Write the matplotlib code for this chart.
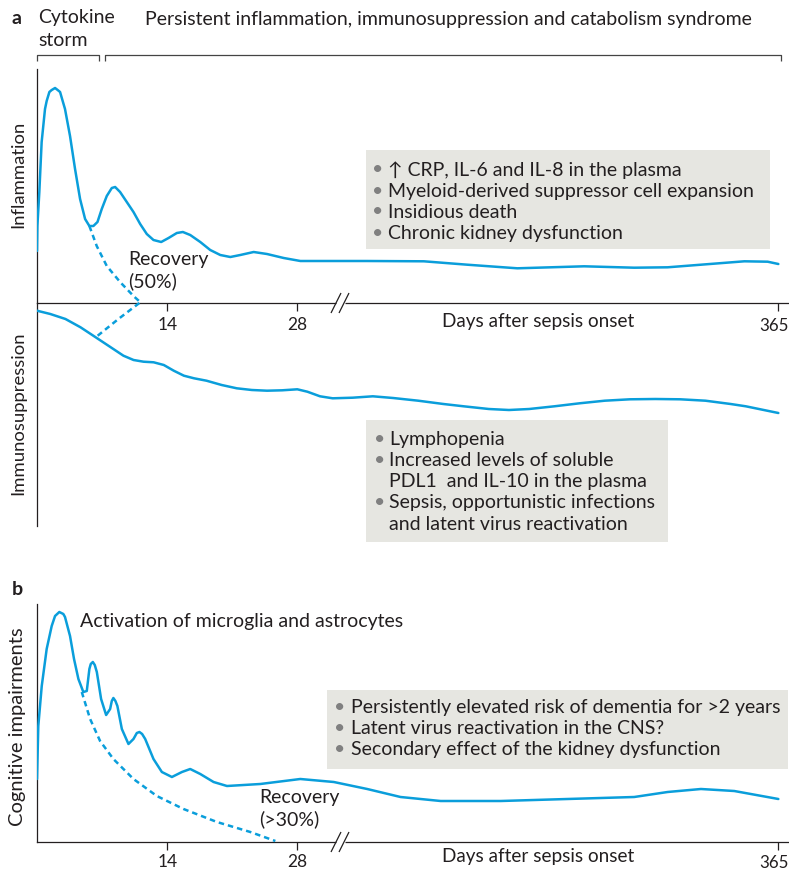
import numpy as np
import matplotlib
matplotlib.use("Agg")
import matplotlib.pyplot as plt
from matplotlib.lines import Line2D
from matplotlib.patches import Rectangle

W, H = 789, 870
BLUE = "#0a9edb"
INK = "#231f20"
BOX = "#e6e6e1"
DOT = "#808080"
FONT = ["Lato", "DejaVu Sans"]

# x axis: days after sepsis onset, linear up to the break, squeezed after it
BREAK = 32.0
SQUEEZE = 0.1432
day_ticks = [14, 28, 365]

# schematic curves (level in arbitrary units)
infl_days = [0, 0.04, 0.25, 0.5, 0.86, 1.04, 1.33, 1.58, 1.94, 2.22, 2.48, 2.76,
             3.01, 3.55, 4.09, 4.63, 5.17, 5.63, 6.06, 6.5, 6.96, 7.5, 8.04,
             8.4, 8.93, 9.65, 10.37, 11.09, 11.8, 12.52, 13.35, 14.14, 15.03,
             15.68, 16.47, 17.55, 18.62, 19.7, 20.78, 21.85, 23.29, 24.72, 26.52,
             28.31, 31.9, 56, 98.9, 131.5, 169.1, 194.2, 219.2, 256.8, 281.9,
             306.9, 339.5, 357, 365]
infl_level = [52, 77, 111, 161, 194, 202, 211, 213, 215, 213, 211, 202,
              194, 167, 134, 104, 84, 77, 77, 81, 94, 107, 115,
              116, 111, 101, 91, 79, 69, 63, 61, 65, 70,
              71, 68, 61, 53, 48, 46, 48, 51, 49, 45,
              42, 42, 42, 41.7, 38.3, 34.7, 35.7, 36.7, 35.3, 35.7,
              38.3, 41.7, 41.3, 39]
infl_recovery_days = [5.63, 6.42, 7.5, 8.93, 10.37, 11.2]
infl_recovery_level = [77, 57, 37, 21, 7, 0]

imm_days = [0, 1.43, 3.06, 4.68, 6.31, 7.93, 9.29, 10.38, 11.45, 12.54, 13.63,
            14.7, 15.79, 16.88, 18.22, 19.85, 21.47, 23.1, 24.73, 26.35, 27.98,
            29.06, 30.42, 31.78, 45.5, 60.6, 75.8, 94.7, 113.6, 128.8, 147.7,
            162.8, 178, 196.9, 215.8, 234.7, 253.6, 272.6, 291.4, 310.3, 329.2,
            340.6, 365]
imm_level = [7.7, 11, 16, 24.3, 34.3, 44.3, 52.7, 57, 58.7, 59.3, 62,
             67.7, 72.7, 75.3, 77.7, 82, 85.3, 87, 87.7, 87.3, 86.3,
             88.7, 93.3, 95.3, 94.7, 93.3, 95, 97.7, 101, 103.3, 106,
             107, 106, 103.3, 100.3, 97.7, 96.3, 96, 96.3, 97.7, 101,
             103.3, 110]
imm_recovery_days = [11.0, 8.75, 6.31]
imm_recovery_level = [0, 16, 34.3]

cog_days = [0, 0.14, 0.51, 1.04, 1.58, 1.94, 2.40, 2.83, 3.01, 3.55, 3.98, 4.45,
            4.98, 5.35, 5.63, 5.78, 6.00, 6.21, 6.43, 6.89, 7.43, 7.86, 8.04,
            8.21, 8.43, 8.64, 9.12, 9.83, 10.37, 10.73, 11.01, 11.30, 11.63,
            12.52, 13.42, 14.50, 15.58, 16.47, 17.55, 18.98, 20.42, 24.0, 28.3,
            31.9, 56.4, 81.4, 111.5, 156.6, 206.7, 256.8, 281.9, 306.9, 331.9, 365]
cog_level = [63, 116, 156, 193, 216, 226, 230, 228, 225, 206, 183, 163,
             150, 151, 173, 178, 180, 177, 170, 143, 127, 133, 141,
             144, 141, 136, 113, 98, 103, 109, 110, 108, 103,
             83, 70, 65, 70, 73, 68, 60, 56, 58, 63,
             60, 53, 45, 41, 41, 43, 45, 50, 53, 51, 43]
cog_recovery_days = [4.81, 5.71, 6.78, 8.21, 10.37, 12.88, 15.75, 19.34, 22.93, 25.62]
cog_recovery_level = [150, 123, 101, 83, 63, 46, 33, 20, 10, 1]

infl_notes = ["\u2191 CRP, IL-6 and IL-8 in the plasma",
              "Myeloid-derived suppressor cell expansion",
              "Insidious death",
              "Chronic kidney dysfunction"]
imm_notes = ["Lymphopenia",
             "Increased levels of soluble\nPDL1  and IL-10 in the plasma",
             "Sepsis, opportunistic infections\nand latent virus reactivation"]
cog_notes = ["Persistently elevated risk of dementia for >2 years",
             "Latent virus reactivation in the CNS?",
             "Secondary effect of the kidney dysfunction"]


def fwd(d):
    d = np.asarray(d, dtype=float)
    return np.where(d <= BREAK, d, BREAK + (d - BREAK) * SQUEEZE)


def inv(p):
    p = np.asarray(p, dtype=float)
    return np.where(p <= BREAK, p, BREAK + (p - BREAK) / SQUEEZE)


def frac(x, y):
    return x / W, 1 - y / H


def put(x, y, s, size=14, **kw):
    fx, fy = frac(x, y)
    kw.setdefault("va", "center")
    kw.setdefault("color", INK)
    fig.text(fx, fy, s, fontsize=size, family=FONT, **kw)


def seg(xs, ys, **kw):
    fx = [x / W for x in xs]
    fy = [1 - y / H for y in ys]
    kw.setdefault("color", INK)
    kw.setdefault("lw", 0.9)
    fig.add_artist(Line2D(fx, fy, transform=fig.transFigure, solid_capstyle="butt", **kw))


def new_axes(left, top, right, bottom):
    x0, y0 = frac(left, bottom)
    ax = fig.add_axes([x0, y0, (right - left) / W, (bottom - top) / H])
    ax.set_facecolor("none")
    ax.set_xscale("function", functions=(fwd, inv))
    ax.set_xlim(0, 373)
    for s in ["top", "right"]:
        ax.spines[s].set_visible(False)
    for s in ["left", "bottom"]:
        ax.spines[s].set_linewidth(0.9)
        ax.spines[s].set_color(INK)
    ax.set_yticks([])
    return ax


def x_axis(ax, pad, last_dy):
    # last label sits against the right edge, nudged in a little
    labels = [str(t) for t in day_ticks[:-1]] + [""]
    ax.set_xticks(day_ticks)
    ax.set_xticklabels(labels, family=FONT)
    ax.xaxis.set_minor_locator(matplotlib.ticker.NullLocator())
    ax.tick_params(axis="x", direction="out", length=5.8, width=0.9,
                   color=INK, labelcolor=INK, labelsize=12.5, pad=pad)
    ax.annotate(str(day_ticks[-1]), xy=(day_ticks[-1], 0), xycoords=("data", "axes fraction"),
                xytext=(-3.5, last_dy), textcoords="offset points", ha="center", va="center",
                fontsize=12.2, family=FONT, color=INK, annotation_clip=False)


def axis_break(y):
    seg([335.5, 345], [y, y], color="white", lw=2.5)
    seg([331, 341], [y + 10, y - 10])
    seg([339, 349], [y + 10, y - 10])


def notes(box, items, x_dot, x_text, y0, step):
    l, t, r, b = box
    fx, fy = frac(l, b)
    fig.add_artist(Rectangle((fx, fy), (r - l) / W, (b - t) / H, transform=fig.transFigure,
                             facecolor=BOX, edgecolor="none", zorder=0.5))
    y = y0
    for item in items:
        for k, line in enumerate(item.split("\n")):
            if k == 0:
                put(x_dot, y, "\u2022", color=DOT, ha="center")
            put(x_text, y, line)
            y += step


fig = plt.figure(figsize=(W / 100, H / 100), dpi=100)

# panel a, inflammation
ax1 = new_axes(37, 70, 789, 304)
ax1.set_ylim(0, 234)
ax1.plot(infl_days, infl_level, color=BLUE, lw=1.8, solid_capstyle="round",
         solid_joinstyle="round", zorder=3)
ax1.plot(infl_recovery_days, infl_recovery_level, color=BLUE, lw=1.8,
         ls=(0, (2.2, 1.6)), clip_on=False, zorder=3)
x_axis(ax1, pad=3.5, last_dy=-16)

# panel a, immunosuppression (level grows downwards)
ax2 = new_axes(37, 304, 789, 527)
ax2.set_ylim(223, 0)
ax2.spines["bottom"].set_visible(False)
ax2.set_xticks([])
ax2.plot(imm_days, imm_level, color=BLUE, lw=1.8, solid_capstyle="round",
         solid_joinstyle="round", zorder=3)
ax2.plot(imm_recovery_days, imm_recovery_level, color=BLUE, lw=1.8,
         ls=(0, (2.2, 1.6)), clip_on=False, zorder=3)

# panel b, cognition
ax3 = new_axes(37, 605, 789, 843)
ax3.set_ylim(0, 238)
ax3.plot(cog_days, cog_level, color=BLUE, lw=1.8, solid_capstyle="round",
         solid_joinstyle="round", zorder=3)
ax3.plot(cog_recovery_days, cog_recovery_level, color=BLUE, lw=1.8,
         ls=(0, (2.2, 1.6)), clip_on=False, zorder=3)
x_axis(ax3, pad=1.8, last_dy=-14.3)

axis_break(304)
axis_break(843)

# headings and brackets
put(12, 18, "a", size=14, weight="bold")
put(38, 18, "Cytokine")
put(38, 40, "storm")
put(145, 20, "Persistent inflammation, immunosuppression and catabolism syndrome")
seg([37, 37, 99, 99], [62, 56, 56, 62], color="#444444")
seg([105, 105, 781, 781], [62, 56, 56, 62], color="#444444")
put(12, 590, "b", size=14, weight="bold")

# axis titles
put(18, 174, "Inflammation", size=13.3, rotation=90, ha="center")
put(18, 413, "Immunosuppression", size=13.3, rotation=90, ha="center")
put(18, 727, "Cognitive impairments", size=14.5, rotation=90, ha="center")
put(538, 322, "Days after sepsis onset", size=13.6, ha="center")
put(538, 857, "Days after sepsis onset", size=13.6, ha="center")

put(128, 260, "Recovery")
put(128, 281, "(50%)")
put(259, 798, "Recovery")
put(259, 819, "(>30%)")
put(80, 622, "Activation of microglia and astrocytes")

notes((366, 151, 770, 250), infl_notes, 378, 388, 170, 21)
notes((366, 421, 668, 543), imm_notes, 380, 389, 440, 21)
notes((327, 691, 788, 770), cog_notes, 340, 351, 708, 21)

fig.savefig("out.png", dpi=100)
